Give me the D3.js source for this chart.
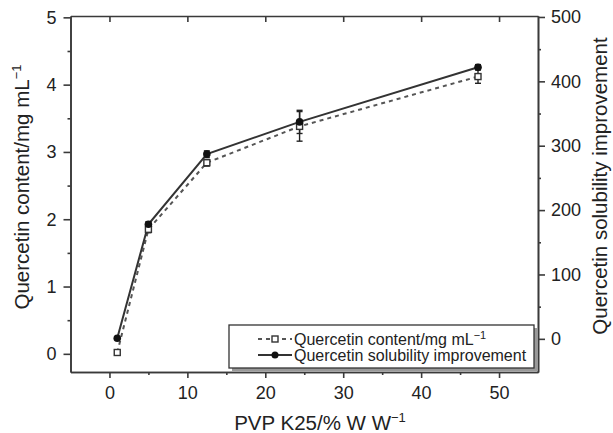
<!DOCTYPE html>
<html>
<head>
<meta charset="utf-8">
<script src="https://cdn.jsdelivr.net/npm/d3@7"></script>
<style>
  html, body { margin: 0; padding: 0; background: #fff; }
  svg { display: block; font-family: "Liberation Sans", Arial, Helvetica, sans-serif; }
</style>
</head>
<body>
<svg id="chart" width="613" height="433"></svg>
<script>
// ---- data ----
const pvp = [1, 5, 12.5, 24.4, 47.3];                 // PVP K25 / % w/w
const content = [0.02, 1.85, 2.84, 3.38, 4.12];       // Quercetin content / mg mL-1 (left axis)
const contentErr = [0.02, 0.05, 0.05, 0.22, 0.10];
const improvement = [1, 178, 287, 337, 422];          // Quercetin solubility improvement (right axis)
const improvementErr = [1, 4, 5, 18, 4];
const xTicks = [0, 10, 20, 30, 40, 50];
const xMinor = [5, 15, 25, 35, 45];
const yLTicks = [0, 1, 2, 3, 4, 5];
const yLMinor = [0.5, 1.5, 2.5, 3.5, 4.5];
const yRTicks = [0, 100, 200, 300, 400, 500];
const yRMinor = [50, 150, 250, 350, 450];
const legendLabels = ["Quercetin content/mg mL", "Quercetin solubility improvement"];

// ---- layout ----
const L = 70.5, R = 538, T = 16, B = 372;
const svg = d3.select("#chart");
const x = d3.scaleLinear().domain([-5, 55]).range([L, R]);
const yL = d3.scaleLinear().domain([-0.27, 5.02]).range([B, T]);
const yR = d3.scaleLinear().domain([-51.5, 501.5]).range([B, T]);

const axisColor = "#3a3a3a";
const textColor = "#222";

function styleAxis(g) {
  g.selectAll("path.domain").attr("stroke", axisColor).attr("stroke-width", 1.6);
  g.selectAll(".tick line").attr("stroke", axisColor).attr("stroke-width", 1.6);
  g.selectAll(".tick text").attr("fill", textColor).style("font-size", "18px")
    .style("font-family", "'Liberation Sans', Arial, sans-serif");
}

// bottom axis
svg.append("g").attr("transform", `translate(0,${B})`)
  .call(d3.axisBottom(x).tickValues(xTicks).tickSize(6).tickPadding(8).tickSizeOuter(0).tickFormat(d3.format("d")))
  .call(styleAxis);
svg.append("g").attr("transform", `translate(0,${B})`)
  .call(d3.axisBottom(x).tickValues(xMinor).tickSize(3).tickFormat("").tickSizeOuter(0))
  .call(styleAxis);
// top axis (ticks inward)
svg.append("g").attr("transform", `translate(0,${T})`)
  .call(d3.axisTop(x).tickValues(xTicks).tickSize(-6).tickFormat("").tickSizeOuter(0))
  .call(styleAxis);
// left axis
svg.append("g").attr("transform", `translate(${L},0)`)
  .call(d3.axisLeft(yL).tickValues(yLTicks).tickSize(7).tickPadding(7).tickSizeOuter(0).tickFormat(d3.format("d")))
  .call(styleAxis);
svg.append("g").attr("transform", `translate(${L},0)`)
  .call(d3.axisLeft(yL).tickValues(yLMinor).tickSize(3).tickFormat("").tickSizeOuter(0))
  .call(styleAxis);
// right axis
svg.append("g").attr("transform", `translate(${R},0)`)
  .call(d3.axisRight(yR).tickValues(yRTicks).tickSize(7).tickPadding(6).tickSizeOuter(0).tickFormat(d3.format("d")))
  .call(styleAxis);
svg.append("g").attr("transform", `translate(${R},0)`)
  .call(d3.axisRight(yR).tickValues(yRMinor).tickSize(3).tickFormat("").tickSizeOuter(0))
  .call(styleAxis);

// ---- axis titles ----
const lt = svg.append("text").attr("transform", `translate(29,187) rotate(-90)`)
  .attr("text-anchor", "middle").attr("fill", textColor).style("font-size", "20.5px");
lt.append("tspan").text("Quercetin content/mg mL");
lt.append("tspan").attr("dy", -8).style("font-size", "13px").text("\u22121");

svg.append("text").attr("transform", `translate(607,186) rotate(-90)`)
  .attr("text-anchor", "middle").attr("fill", textColor).style("font-size", "20.5px")
  .text("Quercetin solubility improvement");

const xt = svg.append("text").attr("x", 320).attr("y", 430)
  .attr("text-anchor", "middle").attr("fill", textColor).style("font-size", "20.5px");
xt.append("tspan").text("PVP K25/% W W");
xt.append("tspan").attr("dy", -8).style("font-size", "13px").text("\u22121");

// ---- series ----
const contentLine = d3.line().x((d, i) => x(pvp[i])).y(d => yL(d));
const impLine = d3.line().x((d, i) => x(pvp[i])).y(d => yR(d));

svg.append("path").datum(content).attr("d", contentLine)
  .attr("fill", "none").attr("stroke", "#555").attr("stroke-width", 2).attr("stroke-dasharray", "4,4");
svg.append("path").datum(improvement).attr("d", impLine)
  .attr("fill", "none").attr("stroke", "#333").attr("stroke-width", 2);

// error bars
function errBars(vals, errs, scale) {
  const g = svg.append("g").attr("stroke", "#222").attr("stroke-width", 1.4);
  vals.forEach((v, i) => {
    const cx = x(pvp[i]), y1 = scale(v - errs[i]), y2 = scale(v + errs[i]);
    g.append("line").attr("x1", cx).attr("x2", cx).attr("y1", y1).attr("y2", y2);
    g.append("line").attr("x1", cx - 3).attr("x2", cx + 3).attr("y1", y1).attr("y2", y1);
    g.append("line").attr("x1", cx - 3).attr("x2", cx + 3).attr("y1", y2).attr("y2", y2);
  });
}
errBars(content, contentErr, yL);
errBars(improvement, improvementErr, yR);

// markers
svg.append("g").selectAll("rect").data(content).join("rect")
  .attr("x", (d, i) => x(pvp[i]) - 3).attr("y", d => yL(d) - 3)
  .attr("width", 6).attr("height", 6)
  .attr("fill", "#fff").attr("stroke", "#333").attr("stroke-width", 1.4);
svg.append("g").selectAll("circle").data(improvement).join("circle")
  .attr("cx", (d, i) => x(pvp[i])).attr("cy", d => yR(d)).attr("r", 3.8)
  .attr("fill", "#111");

// ---- legend ----
const lg = svg.append("g");
lg.append("rect").attr("x", 232).attr("y", 328).attr("width", 305).attr("height", 43)
  .attr("fill", "#999");
lg.append("rect").attr("x", 229).attr("y", 325).attr("width", 305).attr("height", 43)
  .attr("fill", "#fff").attr("stroke", "#333").attr("stroke-width", 1.3);
// entry 1
lg.append("line").attr("x1", 258).attr("x2", 292).attr("y1", 339).attr("y2", 339)
  .attr("stroke", "#555").attr("stroke-width", 2).attr("stroke-dasharray", "4,4");
lg.append("rect").attr("x", 272).attr("y", 336).attr("width", 6).attr("height", 6)
  .attr("fill", "#fff").attr("stroke", "#333").attr("stroke-width", 1.4);
const t1 = lg.append("text").attr("x", 294).attr("y", 345).attr("fill", textColor)
  .style("font-size", "16px");
t1.append("tspan").text(legendLabels[0]);
t1.append("tspan").attr("dy", -6).style("font-size", "11px").text("\u22121");
// entry 2
lg.append("line").attr("x1", 258).attr("x2", 292).attr("y1", 355).attr("y2", 355)
  .attr("stroke", "#333").attr("stroke-width", 2);
lg.append("circle").attr("cx", 275).attr("cy", 355).attr("r", 3.5).attr("fill", "#111");
lg.append("text").attr("x", 294).attr("y", 361).attr("fill", textColor)
  .style("font-size", "16px")
  .text(legendLabels[1]);
</script>
</body>
</html>
